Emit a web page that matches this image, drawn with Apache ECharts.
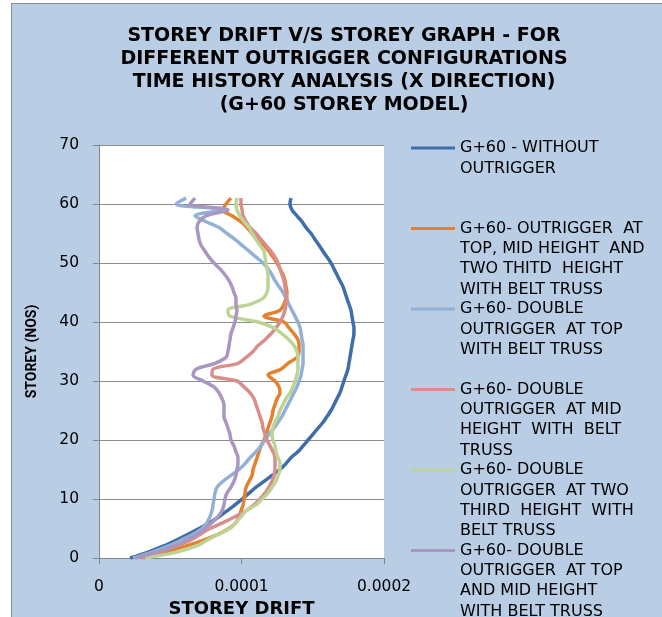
<!DOCTYPE html>
<html>
<head>
<meta charset="utf-8">
<script src="https://cdn.jsdelivr.net/npm/echarts@6/dist/echarts.min.js"></script>
<style>
html,body{margin:0;padding:0;background:#fff;overflow:hidden;width:662px;height:617px;}
#frame{position:absolute;left:11px;top:3px;width:700px;height:700px;background:#B9CDE5;border:1px solid #8c8c8c;box-sizing:border-box;}
#chart{position:absolute;left:0;top:0;width:662px;height:617px;}
</style>
</head>
<body>
<div id="frame"></div>
<div id="chart"></div>
<script>
// Storey levels (y values)
const storeys = [0,1,2,3,4,5,6,7,8,9,10,11,12,13,14,15,16,17,18,19,20,21,22,23,24,25,26,27,28,29,30,31,32,33,34,35,36,37,38,39,40,41,42,43,44,45,46,47,48,49,50,51,52,53,54,55,56,57,58,59,60,61];

// Storey drift values per storey
const driftWithout = [21.8e-6,34.4e-6,44.9e-6,54.0e-6,62.5e-6,70.2e-6,77.9e-6,84.2e-6,89.8e-6,95.4e-6,100.4e-6,105.3e-6,110.2e-6,115.8e-6,121.4e-6,127.0e-6,131.2e-6,134.7e-6,139.6e-6,143.2e-6,146.7e-6,150.2e-6,153.7e-6,157.2e-6,160.0e-6,162.8e-6,164.9e-6,167.0e-6,169.1e-6,170.5e-6,171.9e-6,173.3e-6,174.7e-6,175.4e-6,176.1e-6,176.8e-6,177.5e-6,178.2e-6,178.9e-6,178.9e-6,178.2e-6,177.5e-6,176.8e-6,175.4e-6,174.0e-6,172.6e-6,171.2e-6,169.1e-6,167.0e-6,164.9e-6,162.8e-6,160.0e-6,157.2e-6,154.4e-6,151.6e-6,148.8e-6,145.3e-6,142.5e-6,138.9e-6,135.4e-6,134.0e-6,134.7e-6];
const driftTopMidTwoThird = [30.9e-6,46.3e-6,60.4e-6,73.0e-6,83.5e-6,91.2e-6,96.1e-6,98.2e-6,99.6e-6,101.1e-6,101.8e-6,102.5e-6,103.2e-6,105.3e-6,107.4e-6,108.1e-6,109.5e-6,110.9e-6,112.3e-6,113.7e-6,115.8e-6,117.2e-6,118.6e-6,120.0e-6,121.4e-6,122.1e-6,123.5e-6,124.9e-6,127.0e-6,126.3e-6,123.5e-6,118.6e-6,127.7e-6,132.6e-6,138.9e-6,140.4e-6,140.4e-6,139.6e-6,136.8e-6,133.3e-6,129.8e-6,115.8e-6,127.0e-6,129.8e-6,131.2e-6,131.9e-6,131.2e-6,130.5e-6,129.1e-6,127.0e-6,124.9e-6,122.1e-6,119.3e-6,115.8e-6,111.6e-6,107.4e-6,103.9e-6,99.6e-6,93.3e-6,87.0e-6,89.1e-6,92.6e-6];
const driftDoubleTop = [23.9e-6,37.2e-6,48.4e-6,57.5e-6,66.0e-6,72.3e-6,75.8e-6,77.9e-6,79.3e-6,80.0e-6,80.7e-6,81.4e-6,82.8e-6,87.0e-6,92.6e-6,98.2e-6,102.5e-6,106.0e-6,110.2e-6,113.7e-6,116.5e-6,119.3e-6,122.8e-6,125.6e-6,128.4e-6,130.5e-6,132.6e-6,134.7e-6,136.8e-6,138.9e-6,140.4e-6,141.8e-6,142.5e-6,143.2e-6,143.2e-6,143.2e-6,143.2e-6,142.5e-6,141.8e-6,141.1e-6,139.6e-6,137.5e-6,135.4e-6,133.3e-6,131.2e-6,129.1e-6,126.3e-6,123.5e-6,121.4e-6,118.6e-6,115.1e-6,110.2e-6,105.3e-6,100.4e-6,95.4e-6,89.8e-6,84.2e-6,75.1e-6,67.4e-6,86.3e-6,54.0e-6,61.1e-6];
const driftDoubleMid = [28.8e-6,42.8e-6,53.3e-6,63.9e-6,70.9e-6,77.9e-6,87.0e-6,95.4e-6,103.2e-6,108.8e-6,113.0e-6,116.5e-6,119.3e-6,121.4e-6,122.8e-6,123.5e-6,123.5e-6,123.5e-6,122.1e-6,120.0e-6,117.9e-6,116.5e-6,115.1e-6,114.4e-6,113.0e-6,111.6e-6,110.2e-6,108.8e-6,106.0e-6,101.8e-6,96.8e-6,79.3e-6,80.0e-6,97.5e-6,103.2e-6,108.1e-6,111.6e-6,116.5e-6,120.7e-6,124.2e-6,127.0e-6,129.1e-6,130.5e-6,131.2e-6,131.9e-6,131.2e-6,130.5e-6,129.8e-6,128.4e-6,127.0e-6,125.6e-6,123.5e-6,120.7e-6,117.2e-6,113.7e-6,110.2e-6,106.0e-6,103.2e-6,101.1e-6,100.4e-6,99.6e-6,99.6e-6];
const driftDoubleTwoThird = [32.3e-6,54.7e-6,68.1e-6,75.8e-6,83.5e-6,91.9e-6,96.1e-6,99.6e-6,103.2e-6,110.2e-6,114.4e-6,118.6e-6,121.4e-6,124.2e-6,125.6e-6,127.0e-6,127.0e-6,125.6e-6,124.2e-6,123.5e-6,122.1e-6,121.4e-6,122.1e-6,123.5e-6,125.6e-6,127.0e-6,129.1e-6,131.2e-6,134.0e-6,136.1e-6,137.5e-6,138.9e-6,139.6e-6,139.6e-6,139.6e-6,138.9e-6,136.8e-6,133.3e-6,128.4e-6,122.8e-6,111.6e-6,91.9e-6,90.5e-6,106.0e-6,115.1e-6,117.9e-6,118.6e-6,118.6e-6,118.6e-6,117.9e-6,117.2e-6,116.5e-6,115.8e-6,113.0e-6,110.2e-6,107.4e-6,105.3e-6,101.8e-6,98.9e-6,96.8e-6,96.1e-6,96.8e-6];
const driftDoubleTopMid = [25.3e-6,40.7e-6,52.6e-6,61.1e-6,68.8e-6,74.4e-6,79.3e-6,83.5e-6,86.3e-6,87.7e-6,88.4e-6,89.8e-6,92.6e-6,94.7e-6,96.1e-6,96.8e-6,97.5e-6,97.5e-6,96.1e-6,94.7e-6,92.6e-6,91.9e-6,90.5e-6,89.1e-6,87.7e-6,87.7e-6,87.7e-6,86.3e-6,84.2e-6,80.7e-6,73.0e-6,66.0e-6,68.1e-6,81.4e-6,89.1e-6,90.5e-6,91.2e-6,91.9e-6,92.6e-6,94.0e-6,95.4e-6,96.1e-6,96.8e-6,96.1e-6,96.1e-6,94.7e-6,93.3e-6,91.2e-6,88.4e-6,84.9e-6,80.7e-6,77.2e-6,74.4e-6,71.6e-6,70.2e-6,69.5e-6,68.8e-6,70.2e-6,75.1e-6,90.5e-6,63.9e-6,67.4e-6];

const seriesNames = [
  "G+60 - WITHOUT OUTRIGGER",
  "G+60- OUTRIGGER AT TOP, MID HEIGHT AND TWO THITD HEIGHT WITH BELT TRUSS",
  "G+60- DOUBLE OUTRIGGER AT TOP WITH BELT TRUSS",
  "G+60- DOUBLE OUTRIGGER AT MID HEIGHT WITH BELT TRUSS",
  "G+60- DOUBLE OUTRIGGER AT TWO THIRD HEIGHT WITH BELT TRUSS",
  "G+60- DOUBLE OUTRIGGER AT TOP AND MID HEIGHT WITH BELT TRUSS"
];
const legendLines = [
  ["G+60 - WITHOUT", "OUTRIGGER"],
  ["G+60- OUTRIGGER  AT", "TOP, MID HEIGHT  AND", "TWO THITD  HEIGHT", "WITH BELT TRUSS"],
  ["G+60- DOUBLE", "OUTRIGGER  AT TOP", "WITH BELT TRUSS"],
  ["G+60- DOUBLE", "OUTRIGGER  AT MID", "HEIGHT  WITH  BELT", "TRUSS"],
  ["G+60- DOUBLE", "OUTRIGGER  AT TWO", "THIRD  HEIGHT  WITH", "BELT TRUSS"],
  ["G+60- DOUBLE", "OUTRIGGER  AT TOP", "AND MID HEIGHT", "WITH BELT TRUSS"]
];
const seriesValues = [driftWithout, driftTopMidTwoThird, driftDoubleTop, driftDoubleMid, driftDoubleTwoThird, driftDoubleTopMid];
const colors = ['#3F6EAA', '#E5802E', '#93B1D6', '#D88E8B', '#BCD496', '#A996C2'];
const xTicks = [0, 0.0001, 0.0002];
const yTicks = [0, 10, 20, 30, 40, 50, 60, 70];

const chart = echarts.init(document.getElementById('chart'), null, {renderer: 'canvas'});

const LH = 20.3;
function legendText(name) {
  const idx = seriesNames.indexOf(name);
  const lines = legendLines[idx];
  const out = ['', '', ''].concat(lines);
  while (out.length < 7) out.push(' ');
  return out.join('\n');
}

const series = seriesValues.map((vals, i) => ({
  name: seriesNames[i],
  type: 'line',
  data: vals.map((v, k) => [v, storeys[k]]),
  showSymbol: false,
  symbol: 'none',
  smooth: 0.35,
  lineStyle: {color: colors[i], width: 3.5},
  itemStyle: {color: colors[i]},
  z: 2 + i
}));

chart.setOption({
  animation: false,
  backgroundColor: 'transparent',
  title: {
    text: 'STOREY DRIFT V/S STOREY GRAPH - FOR\nDIFFERENT OUTRIGGER CONFIGURATIONS\nTIME HISTORY ANALYSIS (X DIRECTION)\n(G+60 STOREY MODEL)',
    left: 339,
    textAlign: 'center',
    top: 20,
    textStyle: {fontFamily: 'DejaVu Sans', fontWeight: 'bold', fontSize: 19, lineHeight: 23, color: '#000'}
  },
  legend: {
    orient: 'vertical',
    left: 411,
    top: 77,
    height: 1200,
    width: 250,
    padding: 0,
    icon: 'rect',
    itemWidth: 44,
    itemHeight: 3,
    itemGap: -61.6,
    data: seriesNames,
    formatter: legendText,
    textStyle: {fontFamily: 'DejaVu Sans', fontSize: 16, lineHeight: LH, color: '#000'}
  },
  grid: {
    left: 99, top: 145, right: 278, bottom: 59,
    containLabel: false,
    outerBoundsMode: 'none',
    show: true, backgroundColor: '#ffffff', borderWidth: 0
  },
  xAxis: {
    type: 'value',
    min: xTicks[0], max: xTicks[xTicks.length - 1], interval: 0.0001,
    name: 'STOREY DRIFT',
    nameLocation: 'middle',
    nameGap: 40,
    nameTextStyle: {fontFamily: 'DejaVu Sans', fontWeight: 'bold', fontSize: 18, color: '#000'},
    axisLine: {show: true, lineStyle: {color: '#868686', width: 1}},
    axisTick: {show: true, length: 6, inside: false, lineStyle: {color: '#868686'}},
    axisLabel: {margin: 21, fontFamily: 'DejaVu Sans', fontSize: 15.5, color: '#000',
      formatter: v => (v === 0 ? '0' : v.toFixed(4))},
    splitLine: {show: false}
  },
  yAxis: {
    type: 'value',
    min: yTicks[0], max: yTicks[yTicks.length - 1], interval: 10,
    name: 'STOREY (NOS)',
    nameLocation: 'middle',
    nameGap: 60,
    nameRotate: 90,
    nameTextStyle: {fontFamily: 'Roboto', fontWeight: 'bold', fontSize: 14, color: '#000'},
    axisLine: {show: true, lineStyle: {color: '#868686', width: 1}},
    axisTick: {show: true, length: 6, lineStyle: {color: '#868686'}},
    axisLabel: {margin: 20, fontFamily: 'DejaVu Sans', fontSize: 15.5, color: '#000'},
    splitLine: {show: true, lineStyle: {color: '#8c8c8c', width: 1}}
  },
  series: series
});
</script>
</body>
</html>
